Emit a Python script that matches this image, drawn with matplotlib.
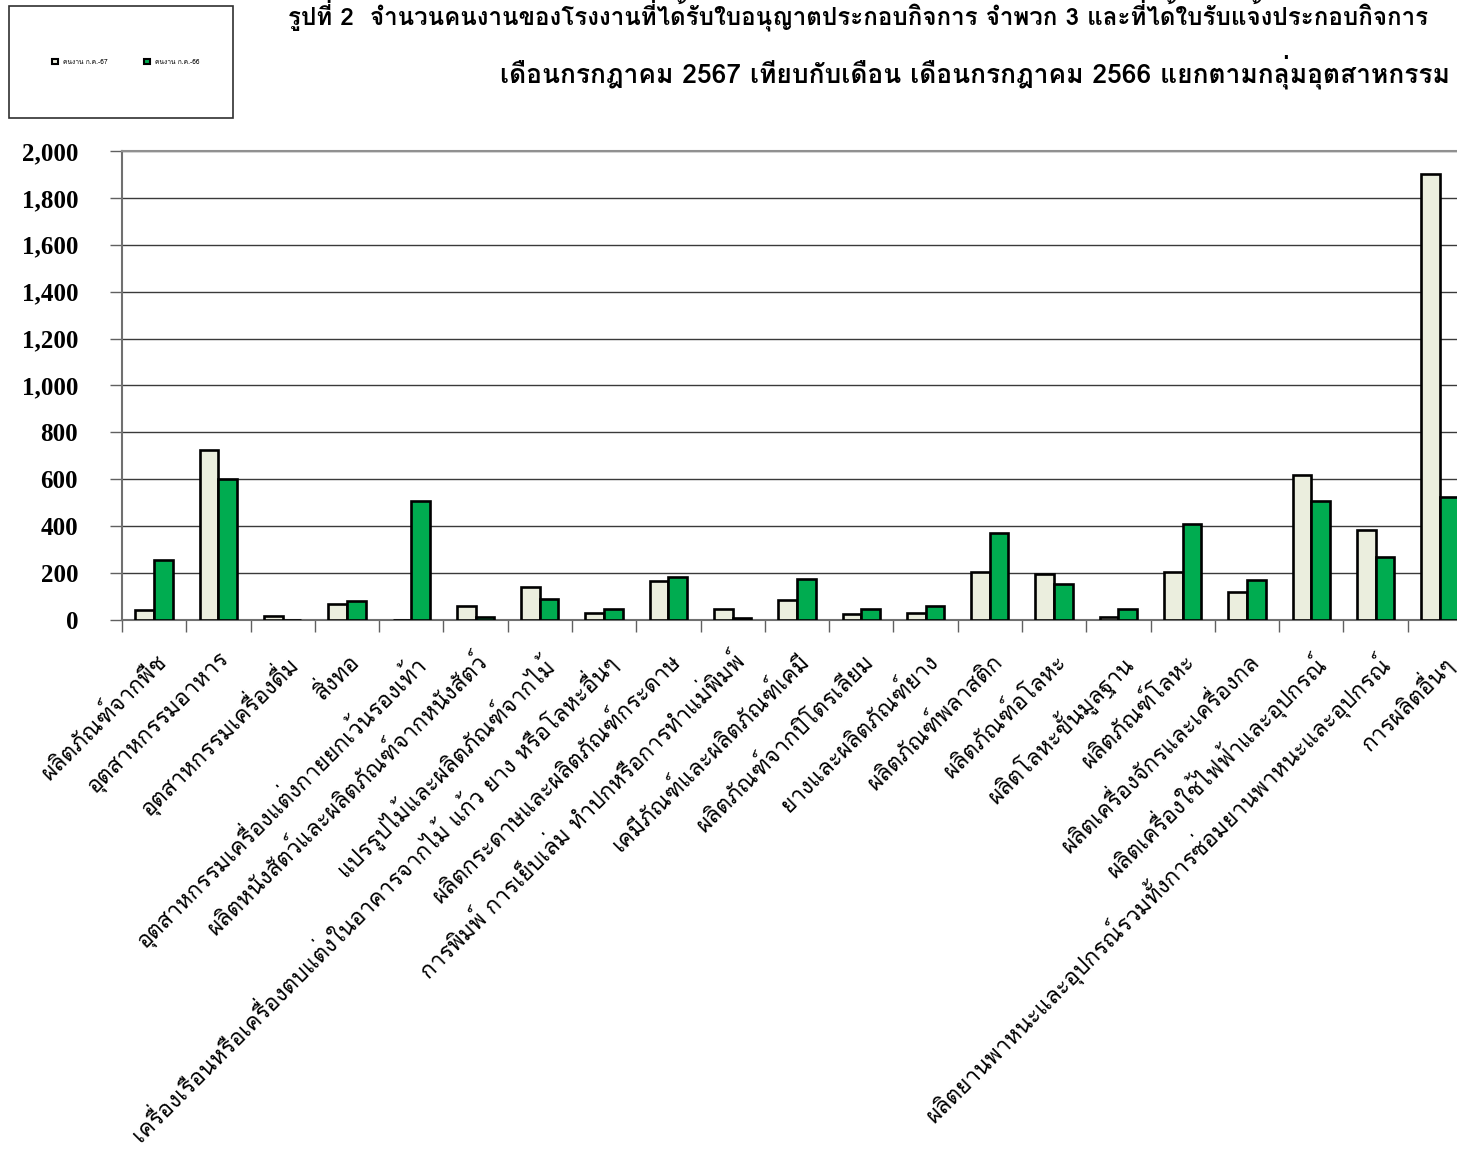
import numpy as np
import matplotlib
matplotlib.use("Agg")
import matplotlib.pyplot as plt
from matplotlib import font_manager
from matplotlib.ft2font import FT2Font
from matplotlib.patches import Rectangle, Patch

# กลุ่มอุตสาหกรรม
categories = [
    "ผลิตภัณฑ์จากพืช",
    "อุตสาหกรรมอาหาร",
    "อุตสาหกรรมเครื่องดื่ม",
    "สิ่งทอ",
    "อุตสาหกรรมเครื่องแต่งกายยกเว้นรองเท้า",
    "ผลิตหนังสัตว์และผลิตภัณฑ์จากหนังสัตว์",
    "แปรรูปไม้และผลิตภัณฑ์จากไม้",
    "เครื่องเรือนหรือเครื่องตบแต่งในอาคารจากไม้ แก้ว ยาง หรือโลหะอื่นๆ",
    "ผลิตกระดาษและผลิตภัณฑ์กระดาษ",
    "การพิมพ์ การเย็บเล่ม ทำปกหรือการทำแม่พิมพ์",
    "เคมีภัณฑ์และผลิตภัณฑ์เคมี",
    "ผลิตภัณฑ์จากปิโตรเลียม",
    "ยางและผลิตภัณฑ์ยาง",
    "ผลิตภัณฑ์พลาสติก",
    "ผลิตภัณฑ์อโลหะ",
    "ผลิตโลหะขั้นมูลฐาน",
    "ผลิตภัณฑ์โลหะ",
    "ผลิตเครื่องจักรและเครื่องกล",
    "ผลิตเครื่องใช้ไฟฟ้าและอุปกรณ์",
    "ผลิตยานพาหนะและอุปกรณ์รวมทั้งการซ่อมยานพาหนะและอุปกรณ์",
    "การผลิตอื่นๆ",
]
workers_67 = [44, 723, 17, 68, 0, 61, 142, 28, 165, 48, 87, 26, 31, 206,
              195, 11, 206, 121, 618, 385, 1902]
workers_66 = [256, 600, 0, 80, 508, 14, 91, 48, 182, 10, 176, 46, 61, 370,
              154, 48, 408, 172, 509, 267, 523]
series_names = ["คนงาน ก.ค.-67", "คนงาน ก.ค.-66"]
yticks = [0, 200, 400, 600, 800, 1000, 1200, 1400, 1600, 1800, 2000]

title_1 = ("รูปที่ 2  จำนวนคนงานของโรงงานที่ได้รับใบอนุญาตประกอบกิจการ จำพวก 3 "
           "และที่ได้ใบรับแจ้งประกอบกิจการ")
title_2 = "เดือนกรกฎาคม 2567 เทียบกับเดือน เดือนกรกฎาคม 2566 แยกตามกลุ่มอุตสาหกรรม"

colors = ["#EBEEDE", "#00AC50"]


# หาฟอนต์ที่มีอักษรไทย
def thai_font():
    for f in font_manager.fontManager.ttflist:
        try:
            if 0x0E01 in FT2Font(f.fname).get_charmap():
                return f.name
        except Exception:
            pass
    return "DejaVu Sans"


thai = thai_font()
plt.rcParams["font.family"] = [thai, "DejaVu Sans"]

fig = plt.figure(figsize=(14.57, 11.58), dpi=100)
ax = fig.add_axes([0.0837, 0.4646, 0.9266, 0.405])

x = np.arange(len(categories))
w = 0.29
ax.bar(x - w / 2, workers_67, width=w, color=colors[0], edgecolor="k",
       linewidth=1.9, zorder=3)
ax.bar(x + w / 2, workers_66, width=w, color=colors[1], edgecolor="k",
       linewidth=1.9, zorder=3)

ax.set_xlim(-0.5, len(categories) - 0.5)
ax.set_ylim(0, 2000)
ax.set_yticks(yticks)
ax.set_yticklabels([f"{v:,}" for v in yticks], family="Liberation Serif",
                   fontweight="bold", fontsize=18)
ax.tick_params(axis="y", direction="out", length=8.6, width=1, color="#606060", pad=23)

ax.set_xticks(x)
ax.set_xticklabels(categories, rotation=45, ha="right", rotation_mode="anchor",
                   fontsize=16.4)
ax.tick_params(axis="x", which="major", length=0, pad=21)
ax.set_xticks(np.arange(-0.5, len(categories)), minor=True)
ax.tick_params(axis="x", which="minor", direction="out", length=8.6, width=1,
               color="#606060")

ax.grid(axis="y", color="#3a3a3a", linewidth=1, zorder=0)
ax.spines["right"].set_visible(False)
ax.spines["top"].set_color("#909090")
ax.spines["top"].set_linewidth(1.5)
ax.spines["left"].set_color("#707070")
ax.spines["left"].set_linewidth(1.5)
ax.spines["bottom"].set_color("#707070")
ax.spines["bottom"].set_linewidth(1.5)

# หัวเรื่อง
fig.text(288 / 1457, 1 - 15 / 1158, title_1, fontsize=17.4, fontweight="bold",
         ha="left", va="center")
fig.text(500 / 1457, 1 - 72 / 1158, title_2, fontsize=19, fontweight="bold",
         ha="left", va="center")

# กล่องคำอธิบาย
fig.patches.append(Rectangle((9 / 1457, 1 - 118 / 1158), 224 / 1457, 112 / 1158,
                             transform=fig.transFigure, facecolor="white",
                             edgecolor="#303030", linewidth=1.2))
handles = [Patch(facecolor=c, edgecolor="k", linewidth=1.5) for c in colors]
fig.legend(handles, series_names, loc="center",
           bbox_to_anchor=(126 / 1457, 1 - 62 / 1158), ncol=2, frameon=False,
           fontsize=4.8, handlelength=0.8, handleheight=0.8, columnspacing=5.5)

fig.savefig("out.png", dpi=100)
